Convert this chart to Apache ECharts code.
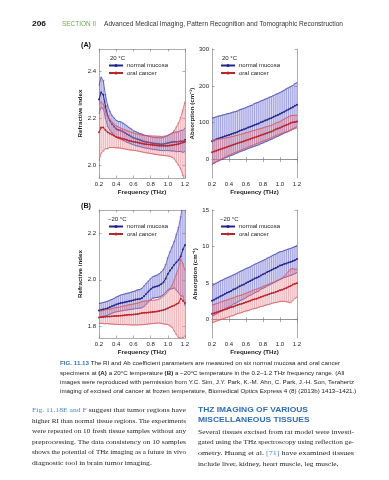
<!DOCTYPE html>
<html><head><meta charset="utf-8">
<script src="https://cdn.jsdelivr.net/npm/echarts@6/dist/echarts.min.js"></script>
<style>html,body{margin:0;padding:0;background:#fff}#c{width:389px;height:480px}</style>
</head><body><div id="c"></div>
<script>
// ---------- DATA ----------
const freq = [0.2,0.225,0.25,0.275,0.3,0.325,0.35,0.375,0.4,0.425,0.45,0.475,0.5,0.525,0.55,0.575,0.6,0.625,0.65,0.675,0.7,0.725,0.75,0.775,0.8,0.825,0.85,0.875,0.9,0.925,0.95,0.975,1.0,1.025,1.05,1.075,1.1,1.125,1.15,1.175,1.2];
const xTicks = [0.2,0.4,0.6,0.8,1.0,1.2];
const ri20Ticks = [2.0,2.2,2.4];
const ab20Ticks = [0,100,200,300];
const riM20Ticks = [1.8,2.0,2.2];
const abM20Ticks = [0,5,10,15];

// (A) 20 °C refractive index
const ri20NormalMean = [2.28,2.31,2.30,2.25,2.21,2.19,2.175,2.165,2.155,2.15,2.148,2.143,2.138,2.132,2.127,2.122,2.117,2.113,2.11,2.107,2.104,2.101,2.099,2.097,2.095,2.093,2.092,2.091,2.09,2.089,2.09,2.092,2.094,2.096,2.098,2.1,2.099,2.1,2.103,2.101,2.108];
const ri20NormalSd = [0.06,0.065,0.06,0.05,0.045,0.04,0.037,0.036,0.036,0.036,0.037,0.037,0.036,0.035,0.033,0.032,0.03,0.03,0.029,0.028,0.028,0.027,0.027,0.026,0.026,0.026,0.026,0.026,0.027,0.027,0.028,0.03,0.032,0.035,0.038,0.04,0.042,0.042,0.045,0.047,0.05];
const ri20CancerMean = [2.14,2.16,2.16,2.15,2.14,2.135,2.13,2.125,2.12,2.118,2.115,2.112,2.11,2.107,2.104,2.102,2.1,2.098,2.096,2.094,2.092,2.09,2.089,2.088,2.087,2.086,2.085,2.084,2.083,2.082,2.082,2.082,2.083,2.084,2.085,2.087,2.088,2.09,2.093,2.096,2.1];
const ri20CancerSd = [0.12,0.11,0.1,0.08,0.07,0.06,0.055,0.05,0.047,0.045,0.043,0.042,0.041,0.04,0.039,0.038,0.037,0.036,0.036,0.036,0.036,0.036,0.037,0.037,0.038,0.038,0.039,0.039,0.04,0.04,0.041,0.042,0.044,0.047,0.052,0.06,0.075,0.09,0.11,0.14,0.17];

// (A) 20 °C absorption
const ab20NormalMean = [50,52,55,57,59,61,63,65,67,69,71,73,75,78,80,82,84,87,89,91,94,96,98,101,103,106,108,111,113,116,119,121,124,127,130,133,136,139,142,146,149];
const ab20NormalSd = [62,62,61,61,60,60,59,59,58,58,58,57,57,57,57,57,57,57,57,57,58,58,58,58,58,58,58,58,58,58,58,58,58,58,58,59,59,59,59,60,60];
const ab20CancerMean = [20,22,24,26,28,30,32,34,36,38,40,42,44,46,48,50,52,54,56,58,60,62,64,66,68,70,72,74,76,79,82,84,86,89,92,94,96,99,101,102,103];
const ab20CancerSd = [32,31,30,29,28,27,26,25,24,24,23,23,22,22,21,21,21,20,20,20,19,19,19,18,18,18,18,17,17,17,17,17,17,18,18,19,20,20,19,18,17];

// (B) -20 °C refractive index
const riM20NormalMean = [1.868,1.87,1.873,1.875,1.878,1.882,1.886,1.89,1.894,1.897,1.9,1.902,1.904,1.906,1.908,1.91,1.912,1.915,1.917,1.918,1.922,1.93,1.94,1.95,1.96,1.967,1.97,1.972,1.976,1.982,1.99,2.005,2.025,2.04,2.052,2.065,2.075,2.085,2.1,2.13,2.15];
const riM20NormalSd = [0.03,0.03,0.03,0.03,0.03,0.03,0.03,0.03,0.032,0.033,0.034,0.035,0.035,0.036,0.036,0.037,0.038,0.038,0.04,0.04,0.042,0.044,0.045,0.045,0.045,0.046,0.047,0.048,0.05,0.052,0.055,0.06,0.07,0.08,0.09,0.1,0.12,0.14,0.17,0.2,0.26];
const riM20CancerMean = [1.838,1.84,1.84,1.841,1.842,1.842,1.843,1.844,1.845,1.845,1.846,1.847,1.848,1.849,1.85,1.85,1.851,1.852,1.853,1.855,1.857,1.858,1.859,1.86,1.861,1.862,1.863,1.864,1.866,1.868,1.87,1.874,1.878,1.882,1.886,1.89,1.895,1.9,1.92,1.91,1.9];
const riM20CancerSd = [0.025,0.027,0.028,0.03,0.03,0.032,0.033,0.035,0.036,0.037,0.038,0.04,0.04,0.042,0.043,0.044,0.045,0.046,0.047,0.048,0.05,0.05,0.05,0.05,0.05,0.05,0.05,0.05,0.052,0.055,0.06,0.065,0.07,0.08,0.09,0.11,0.13,0.15,0.17,0.16,0.14];

// (B) -20 °C absorption
const abM20NormalMean = [2.6,2.72,2.9,3.04,3.22,3.33,3.5,3.67,3.8,3.93,4.12,4.24,4.4,4.57,4.7,4.83,5.0,5.16,5.28,5.45,5.62,5.74,5.88,6.06,6.2,6.33,6.52,6.64,6.8,6.96,7.08,7.25,7.4,7.48,7.62,7.7,7.82,7.9,8.02,8.14,8.3];
const abM20NormalSd = [2.1,2.1,2.1,2.1,2.1,2.1,2.1,2.05,2.05,2.05,2.0,2.0,2.0,2.0,2.0,2.0,2.0,1.95,1.95,1.95,1.95,1.95,1.95,1.9,1.9,1.9,1.9,1.9,1.9,1.9,1.9,1.9,1.9,1.85,1.85,1.85,1.85,1.85,1.85,1.85,1.85];
const abM20CancerMean = [0.8,0.88,1.0,1.08,1.2,1.31,1.4,1.48,1.6,1.7,1.78,1.9,2.02,2.1,2.18,2.3,2.4,2.48,2.6,2.72,2.8,2.88,3.0,3.1,3.2,3.31,3.4,3.5,3.62,3.7,3.8,3.9,4.02,4.1,4.22,4.35,4.5,4.62,4.8,4.9,5.0];
const abM20CancerSd = [1.2,1.2,1.2,1.2,1.2,1.2,1.2,1.2,1.2,1.2,1.2,1.2,1.2,1.2,1.2,1.2,1.2,1.25,1.25,1.25,1.3,1.3,1.3,1.3,1.35,1.35,1.35,1.4,1.4,1.4,1.45,1.5,1.5,1.6,1.7,1.9,2.1,2.3,2.2,2.0,1.9];

const seriesNames = ['normal mucosa','oral cancer'];

// ---------- LAYOUT / STYLE ----------
const SANS = 'Liberation Sans', SERIF = 'Liberation Serif';
const COL = {
  n: {mean:'#25258c', env:'#3b3ba6', bar:'rgba(80,80,190,0.7)', fill:'rgba(125,125,225,0.30)'},
  c: {mean:'#b82430', env:'#d0505a', bar:'rgba(228,110,120,0.75)', fill:'rgba(240,150,160,0.25)'}
};
const panels = [
  {left:99, top:49, width:86, height:129, min:1.945, max:2.495, ticks:ri20Ticks, dec:1, name:'Refractive index',
   d:[ri20NormalMean,ri20NormalSd,ri20CancerMean,ri20CancerSd], temp:'20 °C', tx:110, ty:58, lx:108, ly:62.5},
  {left:212, top:49, width:85, height:129, min:-50, max:300, ticks:ab20Ticks, dec:0, name:'Absorption (cm\u207B\u00B9)',
   d:[ab20NormalMean,ab20NormalSd,ab20CancerMean,ab20CancerSd], temp:'20 °C', tx:222, ty:58, lx:220, ly:62.5},
  {left:99, top:210, width:86, height:128, min:1.75, max:2.3, ticks:riM20Ticks, dec:1, name:'Refractive index',
   d:[riM20NormalMean,riM20NormalSd,riM20CancerMean,riM20CancerSd], temp:'\u221220 °C', tx:108, ty:219, lx:108, ly:223.5},
  {left:212, top:210, width:85, height:128, min:-2.5, max:15, ticks:abM20Ticks, dec:0, name:'Absorption (cm\u207B\u00B9)',
   d:[abM20NormalMean,abM20NormalSd,abM20CancerMean,abM20CancerSd], temp:'\u221220 °C', tx:220, ty:219, lx:220, ly:223.5}
];

const grid = [], xAxis = [], yAxis = [], series = [], legend = [], graphic = [];
const axLine = {show:true, lineStyle:{color:'#8a8a8a', width:0.7}};
const N = panels.length;

panels.forEach((p, gi) => {
  grid.push({left:p.left, top:p.top, width:p.width, height:p.height, containLabel:false});
  const yLab = {customValues:p.ticks, fontSize:6, fontFamily:SANS, color:'#222', margin:3,
    formatter: v => Number(v).toFixed(p.dec)};
  xAxis[gi] = {type:'value', gridIndex:gi, min:0.2, max:1.2, position:'bottom',
    name:'Frequency (THz)', nameLocation:'middle', nameGap:11.5,
    nameTextStyle:{fontSize:6.2, fontWeight:'bold', fontFamily:SANS, color:'#222'},
    axisLine:axLine, splitLine:{show:false},
    axisTick:{customValues:xTicks, inside:true, length:2.5, lineStyle:{color:'#777', width:0.6}},
    axisLabel:{customValues:xTicks, fontSize:6, fontFamily:SANS, color:'#222', margin:3, formatter:v=>Number(v).toFixed(1)}};
  xAxis[gi+N] = {type:'value', gridIndex:gi, min:0.2, max:1.2, position:'top',
    axisLine:axLine, splitLine:{show:false},
    axisTick:{customValues:xTicks, inside:true, length:2.5, lineStyle:{color:'#777', width:0.6}},
    axisLabel:{show:false}};
  yAxis[gi] = {type:'value', gridIndex:gi, min:p.min, max:p.max, position:'left',
    name:p.name, nameLocation:'middle', nameGap:13, nameRotate:90,
    nameTextStyle:{fontSize:6.2, fontWeight:'bold', fontFamily:SANS, color:'#222'},
    axisLine:axLine, splitLine:{show:false},
    axisTick:{customValues:p.ticks, inside:true, length:2.5, lineStyle:{color:'#777', width:0.6}},
    axisLabel:yLab};
  yAxis[gi+N] = {type:'value', gridIndex:gi, min:p.min, max:p.max, position:'right',
    axisLine:axLine, splitLine:{show:false},
    axisTick:{customValues:p.ticks, inside:true, length:2.5, lineStyle:{color:'#777', width:0.6}},
    axisLabel:{show:false}};

  [[p.d[0], p.d[1], COL.n, seriesNames[0]], [p.d[2], p.d[3], COL.c, seriesNames[1]]].forEach(([m, s, col, nm], k) => {
    const base = {xAxisIndex:gi, yAxisIndex:gi, silent:true, animation:false};
    const rows = freq.map((f,i)=>[f, m[i]-s[i], m[i]+s[i]]);
    // shaded band between the envelopes (one polygon built from all data points)
    series.push(Object.assign({}, base, {type:'custom', clip:true, z:1+k*4,
      encode:{x:0, y:[1,2]}, data: rows,
      renderItem: (params, api) => {
        if (params.dataIndexInside !== 0) return null;
        const n = params.dataInsideLength, up = [], lo = [];
        for (let i = 0; i < n; i++) {
          up.push(api.coord([api.value(0, i), api.value(2, i)]));
          lo.unshift(api.coord([api.value(0, i), api.value(1, i)]));
        }
        return {type:'polygon', shape:{points: up.concat(lo)}, style:{fill:col.fill, stroke:null}};
      }}));
    // error bars
    series.push(Object.assign({}, base, {type:'custom', clip:true, z:2+k*4,
      encode:{x:0, y:[1,2]}, data: rows,
      renderItem: (params, api) => {
        const x = api.value(0);
        const a = api.coord([x, api.value(1)]), b = api.coord([x, api.value(2)]);
        const cw = 1.3;
        const ls = {stroke:col.bar, lineWidth:0.55};
        return {type:'group', children:[
          {type:'line', shape:{x1:a[0], y1:a[1], x2:b[0], y2:b[1]}, style:ls},
          {type:'line', shape:{x1:a[0]-cw, y1:a[1], x2:a[0]+cw, y2:a[1]}, style:ls},
          {type:'line', shape:{x1:b[0]-cw, y1:b[1], x2:b[0]+cw, y2:b[1]}, style:ls}
        ]};
      }}));
    // envelopes
    series.push(Object.assign({}, base, {type:'line', symbol:'none', z:3+k*4,
      data: rows.map(r=>[r[0], r[1]]), lineStyle:{color:col.env, width:0.7}}));
    series.push(Object.assign({}, base, {type:'line', symbol:'none', z:3+k*4,
      data: rows.map(r=>[r[0], r[2]]), lineStyle:{color:col.env, width:0.7}}));
    // mean
    series.push(Object.assign({}, base, {type:'line', name:nm, z:4+k*4, symbol:'circle', symbolSize:2,
      data: freq.map((f,i)=>[f, m[i]]), lineStyle:{color:col.mean, width:1}, itemStyle:{color:col.mean}}));
  });

  legend.push({data:seriesNames, left:p.lx, top:p.ly, orient:'vertical', itemGap:1.5, itemWidth:14, itemHeight:4,
    selectedMode:false, padding:0, textStyle:{fontSize:6, fontFamily:SANS, color:'#222', padding:[0,0,0,-1]}});
  graphic.push({type:'text', x:p.tx, y:p.ty, silent:true, style:{text:p.temp, fontSize:6, fontFamily:SANS, fill:'#222', verticalAlign:'middle'}});
});

// ---------- PAGE TEXT ----------
const mctx = document.createElement('canvas').getContext('2d');
function segW(t, st) { mctx.font = (st.fontWeight === 'bold' ? 'bold ' : '') + st.fontSize + 'px "' + st.fontFamily + '"'; return mctx.measureText(t).width; }
function lineW(segs, base) { return segs.reduce((a, [t, o]) => a + segW(t, Object.assign({}, base, o || {})), 0); }
function putLine(x, y, segs, base, scale) {
  let cx = 0;
  segs.forEach(([t, o]) => {
    const st = Object.assign({}, base, o || {});
    graphic.push({type:'text', x: x + cx * scale, y, scaleX: scale, silent:true,
      style:{text:t, fontSize:st.fontSize, fontFamily:st.fontFamily, fontWeight:st.fontWeight || 'normal', fill:st.fill, verticalAlign:'middle', align:'left'}});
    cx += segW(t, st);
  });
}
function block(x, ys, lines, base, target, justify) {
  const s0 = target / lineW(lines[0], base);
  lines.forEach((segs, i) => {
    let s = s0;
    if (justify && i < lines.length - 1) s = target / lineW(segs, base);
    putLine(x, ys[i], segs, base, s);
  });
}

// header
const hdr = {fontSize:6.6, fontFamily:SANS, fill:'#333'};
block(32, [24], [[['206', {fontWeight:'bold', fill:'#111'}]]], hdr, 14, false);
block(62, [24], [[['SECTION II', {fill:'#6aa84f'}]]], hdr, 34, false);
block(104, [24], [[['Advanced Medical Imaging, Pattern Recognition and Tomographic Reconstruction']]], hdr, 239, false);
// panel letters
graphic.push({type:'text', x:81, y:45, silent:true, style:{text:'(A)', fontSize:7.2, fontWeight:'bold', fontFamily:SANS, fill:'#111', verticalAlign:'middle'}});
graphic.push({type:'text', x:81, y:206, silent:true, style:{text:'(B)', fontSize:7.2, fontWeight:'bold', fontFamily:SANS, fill:'#111', verticalAlign:'middle'}});

// caption
const cap = {fontSize:6, fontFamily:SANS, fill:'#222'};
const B = {fontWeight:'bold'};
block(60, [363, 373, 382, 391], [
  [['FIG. 11.13', {fontWeight:'bold', fill:'#3a72b8'}], [' The RI and Ab coefficient parameters are measured on six normal mucosa and oral cancer']],
  [['specimens at '], ['(A)', B], [' a 20\u00B0C temperature '], ['(B)', B], [' a \u221220\u00B0C temperature in the 0.2\u20131.2 THz frequency range. (All']],
  [['images were reproduced with permission from Y.C. Sim, J.Y. Park, K.-M. Ahn, C. Park, J.-H. Son, Terahertz']],
  [['imaging of excised oral cancer at frozen temperature, Biomedical Optics Express 4 (8) (2013b) 1413\u20131421.)']]
], cap, 280, false);

// left column body
const body = {fontSize:7, fontFamily:SERIF, fill:'#222'};
const LINK = {fill:'#4a88cc'};
block(32, [410, 421, 431, 442, 452, 463], [
  [['Fig. 11.18E and F', LINK], [' suggest that tumor regions have']],
  [['higher RI than normal tissue regions. The experiments']],
  [['were repeated on 10 fresh tissue samples without any']],
  [['preprocessing. The data consistency on 10 samples']],
  [['shows the potential of THz imaging as a future in vivo']],
  [['diagnostic tool in brain tumor imaging.']]
], body, 154, true);

// right column heading and body
const head = {fontSize:7.2, fontFamily:SANS, fontWeight:'bold', fill:'#2f6db5'};
block(198, [410, 420], [[['THZ IMAGING OF VARIOUS']], [['MISCELLANEOUS TISSUES']]], head, 110, false);
block(198, [432, 442, 453, 464], [
  [['Several tissues excised from rat model were investi-']],
  [['gated using the THz spectroscopy using reflection ge-']],
  [['ometry. Huang et al. '], ['[71]', LINK], [' have examined tissues']],
  [['include liver, kidney, heart muscle, leg muscle,']]
], body, 156, true);

const chart = echarts.init(document.getElementById('c'), null, {renderer:'canvas'});
chart.setOption({animation:false, backgroundColor:'#fff', grid, xAxis, yAxis, series, legend, graphic});
</script></body></html>
